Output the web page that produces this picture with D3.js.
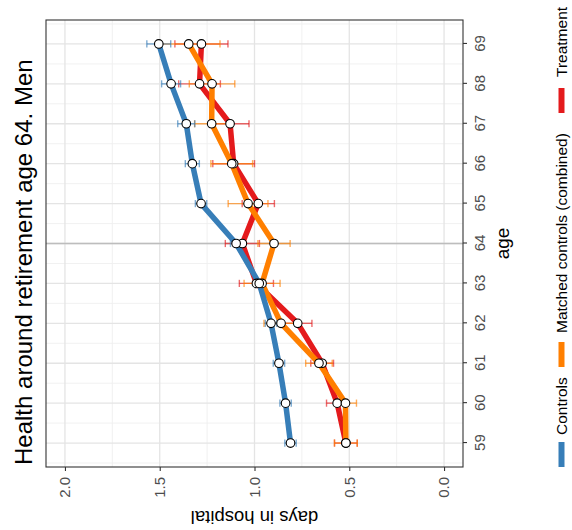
<!DOCTYPE html>
<html lang="en">
<head>
	<meta charset="UTF-8">
	<title>health around retirement</title>
	<style>
		body { margin: 0; background: #fff; }
		text { font-family: "Liberation Sans", Arial, sans-serif; }
	</style>
</head>
<body>
	<svg id="cont" width="572" height="530"></svg>
</body>
<script src="https://cdn.jsdelivr.net/npm/d3@7"></script>
<script>
	// values
	let ages = [59, 60, 61, 62, 63, 64, 65, 66, 67, 68, 69]
	let controls    = [0.81, 0.836, 0.871, 0.913, 0.975, 1.097, 1.282, 1.328, 1.36, 1.44, 1.505]
	let controlsSE  = [0.03, 0.03, 0.03, 0.03, 0.03, 0.03, 0.03, 0.037, 0.045, 0.05, 0.063]
	let matched     = [0.518, 0.52, 0.66, 0.86, 0.96, 0.897, 1.034, 1.12, 1.226, 1.224, 1.347]
	let matchedSE   = [0.06, 0.058, 0.07, 0.09, 0.095, 0.085, 0.105, 0.11, 0.09, 0.12, 0.165]
	let treatment   = [0.518, 0.564, 0.643, 0.772, 0.99, 1.064, 0.98, 1.11, 1.129, 1.29, 1.28]
	let treatmentSE = [0.06, 0.056, 0.06, 0.075, 0.09, 0.09, 0.085, 0.11, 0.10, 0.11, 0.14]
	let dayTicks = [0, 0.5, 1, 1.5, 2]
	let dayMinor = [0.25, 0.75, 1.25, 1.75]
	let names = ["Controls", "Matched controls (combined)", "Treatment"]
	let colors = ["#377eb8", "#ff7f00", "#e41a1c"]

	let series = [
		{name: names[2], col: colors[2], v: treatment, se: treatmentSE},
		{name: names[1], col: colors[1], v: matched, se: matchedSE},
		{name: names[0], col: colors[0], v: controls, se: controlsSE}
	]

	// the plot is drawn upright (530 wide, 572 tall) and turned a quarter to the left
	let svg = d3.select("#cont")
	let plot = svg.append("g").attr("transform", "translate(0,530) rotate(-90)")

	let x = d3.scaleLinear().domain([58.4, 69.6]).range([63, 510])
	let y = d3.scaleLinear().domain([-0.1, 2.1]).range([463, 46])

	// grid
	let minorAge = d3.range(58.5, 70, 1)
	plot.selectAll(".vmin").data(minorAge).enter().append("line")
		.attr("x1", d => x(d)).attr("x2", d => x(d)).attr("y1", 46).attr("y2", 463)
		.attr("stroke", "#efefef").attr("stroke-width", 0.9)
	plot.selectAll(".hmin").data(dayMinor).enter().append("line")
		.attr("y1", d => y(d)).attr("y2", d => y(d)).attr("x1", 63).attr("x2", 510)
		.attr("stroke", "#efefef").attr("stroke-width", 0.9)
	plot.selectAll(".vmaj").data(ages).enter().append("line")
		.attr("x1", d => x(d)).attr("x2", d => x(d)).attr("y1", 46).attr("y2", 463)
		.attr("stroke", "#e4e4e4").attr("stroke-width", 1.3)
	plot.selectAll(".hmaj").data(dayTicks).enter().append("line")
		.attr("y1", d => y(d)).attr("y2", d => y(d)).attr("x1", 63).attr("x2", 510)
		.attr("stroke", "#e4e4e4").attr("stroke-width", 1.3)

	// retirement line
	plot.append("line")
		.attr("x1", x(64)).attr("x2", x(64)).attr("y1", 46).attr("y2", 463)
		.attr("stroke", "#bdbdbd").attr("stroke-width", 1.5)

	let line = d3.line().x((d, i) => x(ages[i])).y(d => y(d))

	series.forEach(s => {
		plot.append("path").datum(s.v)
			.attr("d", line)
			.attr("fill", "none")
			.attr("stroke", s.col)
			.attr("stroke-width", 5.5)
			.attr("stroke-linejoin", "round")
			.attr("stroke-linecap", "butt")
	})

	// error bars
	series.forEach(s => {
		let g = plot.append("g").attr("stroke", s.col).attr("stroke-opacity", 0.65).attr("stroke-width", 1.4)
		s.v.forEach((v, i) => {
			let a = ages[i]
			g.append("line").attr("x1", x(a)).attr("x2", x(a)).attr("y1", y(v - s.se[i])).attr("y2", y(v + s.se[i]))
			g.append("line").attr("x1", x(a - 0.09)).attr("x2", x(a + 0.09)).attr("y1", y(v - s.se[i])).attr("y2", y(v - s.se[i]))
			g.append("line").attr("x1", x(a - 0.09)).attr("x2", x(a + 0.09)).attr("y1", y(v + s.se[i])).attr("y2", y(v + s.se[i]))
		})
	})

	// points
	series.forEach(s => {
		plot.append("g").selectAll("circle").data(s.v).enter().append("circle")
			.attr("cx", (d, i) => x(ages[i]))
			.attr("cy", d => y(d))
			.attr("r", 4.3)
			.attr("fill", "white")
			.attr("stroke", "black")
			.attr("stroke-width", 1.1)
	})

	// panel border
	plot.append("rect")
		.attr("x", 63).attr("y", 46).attr("width", 447).attr("height", 417)
		.attr("fill", "none").attr("stroke", "#333333").attr("stroke-width", 1.1)

	// axes
	let xaxis = d3.axisBottom(x).tickValues(ages).tickSize(4).tickPadding(7).tickFormat(d3.format("d"))
	let gx = plot.append("g").attr("transform", "translate(0,463)").call(xaxis)
	let yaxis = d3.axisLeft(y).tickValues(dayTicks).tickSize(4).tickPadding(6).tickFormat(d3.format(".1f"))
	let gy = plot.append("g").attr("transform", "translate(63,0)").call(yaxis)
	;[gx, gy].forEach(g => {
		g.select(".domain").remove()
		g.selectAll("line").attr("stroke", "#333333").attr("stroke-width", 1.1)
		g.selectAll("text").attr("fill", "#4d4d4d").style("font-size", "15px")
			.style("font-family", "Liberation Sans, Arial, sans-serif")
	})

	// titles
	plot.append("text").attr("x", 65).attr("y", 32)
		.style("font-size", "24px").attr("fill", "black")
		.text("Health around retirement age 64. Men")
	plot.append("text").attr("x", 286.5).attr("y", 508.5).attr("text-anchor", "middle")
		.style("font-size", "19px").attr("fill", "black").text("age")
	plot.append("text").attr("transform", "translate(19,254.5) rotate(-90)").attr("text-anchor", "middle")
		.style("font-size", "18.5px").attr("fill", "black").text("days in hospital")

	// legend along the bottom of the upright plot
	let keyX = [63, 163, 417]
	let labelX = [95, 197, 453]
	let leg = plot.append("g")
	names.forEach((n, i) => {
		leg.append("line").attr("x1", keyX[i]).attr("x2", keyX[i] + 25).attr("y1", 561.5).attr("y2", 561.5)
			.attr("stroke", colors[i]).attr("stroke-width", 6)
		leg.append("text").attr("x", labelX[i]).attr("y", 567)
			.style("font-size", "15.5px").attr("fill", "black").text(n)
	})
</script>
</html>
